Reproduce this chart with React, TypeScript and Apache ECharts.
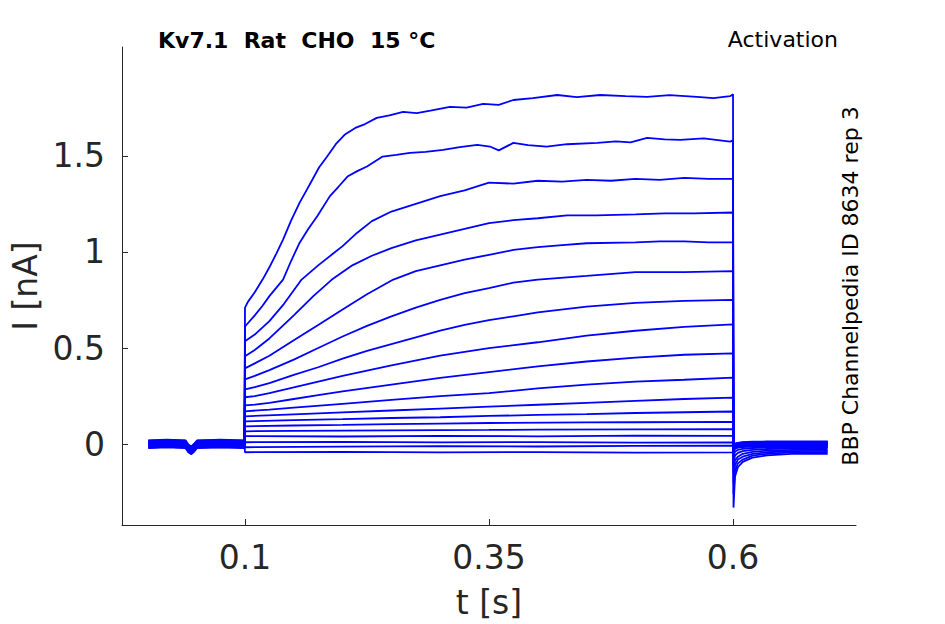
import React, { useEffect, useRef } from "react";
import * as echarts from "echarts";

// ---- axis ticks ----
const xTicks = [0.1, 0.35, 0.6];
const yTicks = [0, 0.5, 1, 1.5];

// ---- holding segment (0 – 0.1 s), shared shape + per-sweep holding level ----
const preTimes = [0.001, 0.02, 0.039, 0.042, 0.045, 0.048, 0.051, 0.075, 0.0995];
const preShape = [0.0, 0.004, 0.0, -0.022, -0.032, -0.018, 0.0, 0.003, 0.0];
const holdLevels = [0.012, -0.008, 0.02, 0.0, -0.015, 0.008, -0.02, 0.015, -0.005, 0.004, -0.012, 0.018, -0.002, 0.01, -0.018, 0.006, -0.01, 0.002];

// ---- step segment (0.1 – 0.6 s): [t, I] ----
const trace01: [number, number][] = [[0.1, 0.71], [0.103, 0.74], [0.11, 0.79], [0.118, 0.856], [0.125, 0.92], [0.132, 0.99], [0.139, 1.064], [0.147, 1.16], [0.156, 1.256], [0.163, 1.32], [0.169, 1.375], [0.176, 1.44], [0.184, 1.495], [0.193, 1.56], [0.202, 1.609], [0.213, 1.645], [0.223, 1.665], [0.235, 1.697], [0.248, 1.71], [0.262, 1.728], [0.276, 1.722], [0.29, 1.735], [0.31, 1.754], [0.327, 1.75], [0.344, 1.77], [0.36, 1.765], [0.375, 1.79], [0.395, 1.8], [0.42, 1.816], [0.44, 1.805], [0.464, 1.816], [0.49, 1.81], [0.512, 1.806], [0.535, 1.815], [0.563, 1.806], [0.58, 1.8], [0.597, 1.81], [0.6, 1.82]];
const trace02: [number, number][] = [[0.1, 0.612], [0.11, 0.67], [0.118, 0.72], [0.125, 0.77], [0.139, 0.856], [0.147, 0.95], [0.156, 1.048], [0.165, 1.12], [0.174, 1.185], [0.187, 1.29], [0.196, 1.34], [0.205, 1.392], [0.215, 1.42], [0.225, 1.444], [0.241, 1.496], [0.255, 1.505], [0.269, 1.515], [0.285, 1.52], [0.303, 1.531], [0.32, 1.545], [0.338, 1.557], [0.351, 1.548], [0.36, 1.528], [0.375, 1.567], [0.39, 1.555], [0.409, 1.548], [0.43, 1.56], [0.461, 1.567], [0.48, 1.575], [0.495, 1.57], [0.512, 1.593], [0.53, 1.585], [0.546, 1.583], [0.57, 1.59], [0.597, 1.574], [0.6, 1.58]];
const trace03: [number, number][] = [[0.1, 0.535], [0.11, 0.57], [0.125, 0.64], [0.14, 0.73], [0.158, 0.856], [0.175, 0.93], [0.19, 0.99], [0.2, 1.03], [0.215, 1.1], [0.23, 1.16], [0.25, 1.21], [0.275, 1.25], [0.3, 1.29], [0.325, 1.32], [0.35, 1.36], [0.375, 1.355], [0.4, 1.37], [0.425, 1.365], [0.45, 1.375], [0.475, 1.37], [0.5, 1.38], [0.525, 1.375], [0.55, 1.385], [0.575, 1.38], [0.6, 1.38]];
const trace04: [number, number][] = [[0.1, 0.457], [0.11, 0.49], [0.125, 0.55], [0.15, 0.67], [0.17, 0.77], [0.189, 0.856], [0.21, 0.93], [0.23, 0.98], [0.25, 1.02], [0.275, 1.06], [0.3, 1.09], [0.325, 1.12], [0.35, 1.15], [0.375, 1.165], [0.4, 1.175], [0.43, 1.19], [0.46, 1.19], [0.5, 1.195], [0.53, 1.2], [0.56, 1.2], [0.6, 1.205]];
const trace05: [number, number][] = [[0.1, 0.394], [0.11, 0.42], [0.125, 0.46], [0.15, 0.54], [0.175, 0.62], [0.2, 0.7], [0.225, 0.78], [0.252, 0.856], [0.275, 0.9], [0.3, 0.93], [0.325, 0.96], [0.35, 0.985], [0.375, 1.01], [0.4, 1.025], [0.425, 1.035], [0.45, 1.045], [0.5, 1.05], [0.525, 1.055], [0.55, 1.055], [0.575, 1.05], [0.6, 1.05]];
const trace06: [number, number][] = [[0.1, 0.337], [0.11, 0.355], [0.125, 0.385], [0.15, 0.44], [0.175, 0.5], [0.2, 0.56], [0.225, 0.615], [0.25, 0.665], [0.275, 0.71], [0.3, 0.75], [0.325, 0.785], [0.35, 0.812], [0.375, 0.84], [0.4, 0.856], [0.45, 0.875], [0.5, 0.895], [0.55, 0.895], [0.6, 0.9]];
const trace07: [number, number][] = [[0.1, 0.285], [0.11, 0.297], [0.125, 0.318], [0.15, 0.36], [0.175, 0.4], [0.2, 0.445], [0.225, 0.485], [0.25, 0.52], [0.275, 0.555], [0.3, 0.59], [0.325, 0.62], [0.35, 0.645], [0.375, 0.665], [0.4, 0.685], [0.45, 0.715], [0.5, 0.735], [0.55, 0.745], [0.6, 0.75]];
const trace08: [number, number][] = [[0.1, 0.244], [0.11, 0.25], [0.125, 0.265], [0.15, 0.295], [0.175, 0.325], [0.2, 0.355], [0.25, 0.41], [0.3, 0.46], [0.35, 0.5], [0.4, 0.53], [0.45, 0.565], [0.5, 0.59], [0.55, 0.61], [0.6, 0.623]];
const trace09: [number, number][] = [[0.1, 0.202], [0.11, 0.206], [0.125, 0.215], [0.15, 0.235], [0.175, 0.255], [0.2, 0.275], [0.25, 0.31], [0.3, 0.345], [0.35, 0.375], [0.4, 0.405], [0.45, 0.43], [0.5, 0.45], [0.55, 0.465], [0.6, 0.472]];
const trace10: [number, number][] = [[0.1, 0.171], [0.125, 0.18], [0.15, 0.19], [0.2, 0.21], [0.25, 0.23], [0.3, 0.25], [0.35, 0.265], [0.4, 0.29], [0.45, 0.31], [0.5, 0.325], [0.55, 0.335], [0.6, 0.346]];
const trace11: [number, number][] = [[0.1, 0.145], [0.15, 0.155], [0.2, 0.165], [0.25, 0.175], [0.3, 0.185], [0.35, 0.195], [0.4, 0.205], [0.45, 0.215], [0.5, 0.225], [0.55, 0.235], [0.6, 0.242]];
const trace12: [number, number][] = [[0.1, 0.119], [0.15, 0.125], [0.2, 0.13], [0.25, 0.136], [0.3, 0.14], [0.35, 0.147], [0.4, 0.152], [0.45, 0.156], [0.5, 0.162], [0.55, 0.166], [0.6, 0.17]];
const trace13: [number, number][] = [[0.1, 0.093], [0.15, 0.097], [0.2, 0.1], [0.25, 0.104], [0.3, 0.107], [0.35, 0.11], [0.45, 0.113], [0.5, 0.114], [0.6, 0.116]];
const trace14: [number, number][] = [[0.1, 0.067], [0.15, 0.069], [0.25, 0.072], [0.35, 0.074], [0.4, 0.076], [0.5, 0.077], [0.6, 0.078]];
const trace15: [number, number][] = [[0.1, 0.042], [0.2, 0.04], [0.3, 0.043], [0.4, 0.041], [0.5, 0.044], [0.6, 0.043]];
const trace16: [number, number][] = [[0.1, 0.01], [0.2, 0.012], [0.3, 0.009], [0.4, 0.011], [0.5, 0.008], [0.6, 0.009]];
const trace17: [number, number][] = [[0.1, -0.016], [0.2, -0.013], [0.3, -0.01], [0.4, -0.012], [0.5, -0.009], [0.6, -0.008]];
const trace18: [number, number][] = [[0.1, -0.042], [0.2, -0.04], [0.3, -0.043], [0.4, -0.041], [0.5, -0.044], [0.6, -0.043]];

// ---- tail segment (after 0.6 s) ----
const tailTimes = [0.6005, 0.602, 0.605, 0.61, 0.62, 0.635, 0.66, 0.697];
const tail01 = [-0.33, -0.17, -0.12, -0.092, -0.07, -0.058, -0.05, -0.05];
const tail02 = [-0.26, -0.14, -0.1, -0.08, -0.06, -0.05, -0.043, -0.042];
const tail03 = [-0.2, -0.11, -0.08, -0.065, -0.05, -0.042, -0.036, -0.035];
const tail04 = [-0.15, -0.085, -0.065, -0.05, -0.04, -0.034, -0.03, -0.028];
const tail05 = [-0.11, -0.06, -0.045, -0.036, -0.03, -0.025, -0.022, -0.02];
const tail06 = [-0.07, -0.04, -0.03, -0.025, -0.02, -0.017, -0.015, -0.015];
const tail07 = [-0.04, -0.025, -0.018, -0.015, -0.012, -0.01, -0.01, -0.01];
const tailSmall = [-0.015, -0.008, -0.004, 0.0, 0.002, 0.003, 0.003, 0.003];

const stepTraces = [trace01, trace02, trace03, trace04, trace05, trace06, trace07, trace08, trace09, trace10, trace11, trace12, trace13, trace14, trace15, trace16, trace17, trace18];
const bigTails = [tail01, tail02, tail03, tail04, tail05, tail06, tail07];

const TEXT = "#262626";
const FONT = "DejaVu Sans";

function buildSweep(i: number): [number, number][] {
  const pre = preTimes.map((t, j) => [t, preShape[j] + holdLevels[i]] as [number, number]);
  const tailVals = i < bigTails.length ? bigTails[i] : tailSmall.map((v) => v + holdLevels[i] * 0.6);
  const tail = tailTimes.map((t, j) => [t, tailVals[j]] as [number, number]);
  return [...pre, ...stepTraces[i], ...tail];
}

export default function App() {
  const ref = useRef<HTMLDivElement>(null);
  useEffect(() => {
    if (!ref.current) return;
    const chart = echarts.init(ref.current, null, { renderer: "svg" });
    const series = stepTraces.map((_, i) => ({
      type: "line",
      name: "sweep " + (i + 1),
      data: buildSweep(i),
      showSymbol: false,
      symbol: "none",
      lineStyle: { color: "#0000ff", width: 1.8 },
      itemStyle: { color: "#0000ff" },
      emphasis: { disabled: true },
      silent: true,
    }));
    chart.setOption({
      animation: false,
      backgroundColor: "#ffffff",
      textStyle: { fontFamily: FONT },
      grid: { left: 122, right: 89, top: 47, bottom: 98 },
      xAxis: {
        type: "value",
        min: -0.026,
        max: 0.726,
        name: "t [s]",
        nameLocation: "middle",
        nameGap: 61,
        nameTextStyle: { fontSize: 33, color: TEXT, fontFamily: FONT },
        axisLine: { show: true, onZero: false, lineStyle: { color: TEXT, width: 1 } },
        axisTick: { show: true, inside: true, length: 6, customValues: xTicks, lineStyle: { color: TEXT } },
        axisLabel: { customValues: xTicks, fontSize: 33, color: TEXT, fontFamily: FONT, margin: 16, formatter: (v: number) => String(v) },
        splitLine: { show: false },
      },
      yAxis: {
        type: "value",
        min: -0.4204,
        max: 2.0657,
        name: "I [nA]",
        nameLocation: "middle",
        nameGap: 78,
        nameRotate: 90,
        nameTextStyle: { fontSize: 33, color: TEXT, fontFamily: FONT },
        axisLine: { show: true, onZero: false, lineStyle: { color: TEXT, width: 1 } },
        axisTick: { show: true, inside: true, length: 6, customValues: yTicks, lineStyle: { color: TEXT } },
        axisLabel: { customValues: yTicks, fontSize: 33, color: TEXT, fontFamily: FONT, margin: 17, formatter: (v: number) => String(v) },
        splitLine: { show: false },
      },
      graphic: [
        {
          type: "text",
          x: 158,
          y: 40,
          style: { text: "Kv7.1  Rat  CHO  15 °C", font: `bold 22px "${FONT}"`, fill: "#000", textAlign: "left", textVerticalAlign: "middle" },
        },
        {
          type: "text",
          x: 838,
          y: 39,
          style: { text: "Activation", font: `22px "${FONT}"`, fill: "#000", textAlign: "right", textVerticalAlign: "middle" },
        },
        {
          type: "text",
          x: 850,
          y: 286,
          rotation: Math.PI / 2,
          style: { text: "BBP Channelpedia ID 8634 rep 3", font: `22px "${FONT}"`, fill: "#000", textAlign: "center", textVerticalAlign: "middle" },
        },
      ],
      series,
    });
    return () => chart.dispose();
  }, []);
  return <div ref={ref} style={{ position: "absolute", left: 0, top: 0, width: 945, height: 624, background: "#fff" }} />;
}
